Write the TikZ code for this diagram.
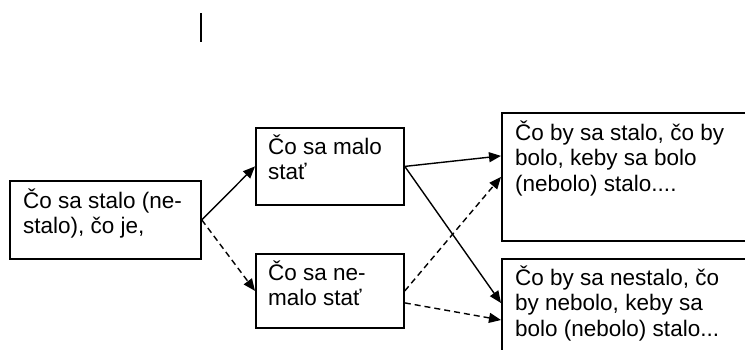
\documentclass[tikz,border=0pt]{standalone}
\usepackage{fontspec}
\setmainfont{Liberation Sans}
\usetikzlibrary{arrows.meta}
\begin{document}
\begin{tikzpicture}[x=1pt,y=-1pt,
  box/.style={draw, line width=1.8pt, rectangle, inner sep=0pt, anchor=north west},
  txt/.style={anchor=base west, inner sep=0pt, font=\fontsize{22.5}{25.5}\selectfont},
  conn/.style={line width=1.4pt, -{Triangle[length=12pt,width=10pt]}},
  dconn/.style={conn, dash pattern=on 6pt off 4pt}]
\clip (0,0) rectangle (745,349);
\draw[line width=1.8pt] (201,13) coordinate (cur1) -- (201,42) coordinate (cur2);
\node[box, minimum width=191pt, minimum height=78pt] (a) at (9,180) {};
\node[box, minimum width=148pt, minimum height=77pt] (b) at (255,127) {};
\node[box, minimum width=148pt, minimum height=74pt] (c) at (255,253) {};
\node[box, minimum width=280pt, minimum height=128pt] (d) at (501,112) {};
\node[box, minimum width=280pt, minimum height=120pt] (e) at (501,258) {};
\node[txt] (ta) at (23,208) {\parbox[t]{180pt}{\raggedright Čo sa stalo (ne-\\stalo), čo je,}};
\node[txt] (tb) at (268,154) {\parbox[t]{135pt}{\raggedright Čo sa malo\\stať}};
\node[txt] (tc) at (268,280) {\parbox[t]{135pt}{\raggedright Čo sa ne-\\malo stať}};
\node[txt] (td) at (515,140) {\parbox[t]{230pt}{\raggedright Čo by sa stalo, čo by\\bolo, keby sa bolo\\(nebolo) stalo....}};
\node[txt] (te) at (515,285) {\parbox[t]{230pt}{\raggedright Čo by sa nestalo, čo\\by nebolo, keby sa\\bolo (nebolo) stalo...}};
\draw[conn] (a.east) -- (b.west);
\draw[dconn] (a.east) -- (c.west);
\draw[conn] (b.east) -- ([yshift=21pt]d.west);
\draw[conn] (b.east) -- ([yshift=-45pt]e.north west);
\draw[dconn] (c.east) -- (d.west);
\draw[dconn] ([yshift=-12pt]c.east) -- ([yshift=-62pt]e.north west);
\end{tikzpicture}
\end{document}
